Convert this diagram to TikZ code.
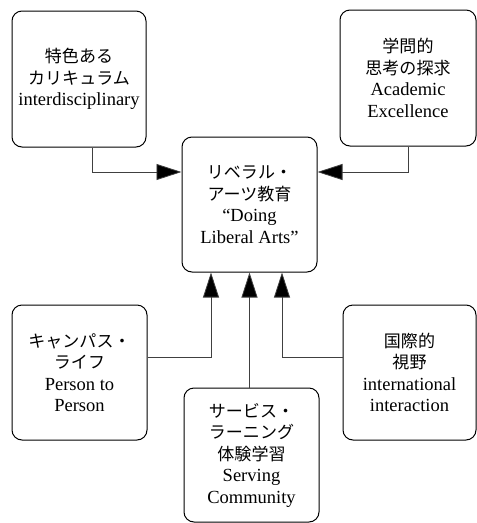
\documentclass[tikz,border=0pt]{standalone}
\usepackage{fontspec}
\setmainfont{Liberation Serif}
\newfontfamily\jp{Noto Sans CJK JP}[Scale=0.92]
\usetikzlibrary{arrows.meta}
\tikzset{
  box/.style={draw=black, line width=1pt, rounded corners=10pt, align=center,
    inner sep=0pt, font=\fontsize{18.5}{21.5}\selectfont},
  arr/.style={draw=black!75, line width=0.8pt,
    -{Triangle[length=25pt,width=16pt,fill=black]}}
}
\begin{document}
\begin{tikzpicture}[x=1pt,y=-1pt]
\useasboundingbox (0,0) rectangle (477,523);
\node[box, minimum width=134pt, minimum height=136pt] (tl) at (79,79)
  {{\jp 特色ある}\\{\jp カリキュラム}\\interdisciplinary};
\node[box, minimum width=136pt, minimum height=136pt] (tr) at (408,78)
  {{\jp 学問的}\\{\jp 思考の探求}\\Academic\\Excellence};
\node[box, minimum width=135pt, minimum height=135pt] (c) at (249.5,204.5)
  {{\jp リベラル・}\\{\jp アーツ教育}\\“Doing\\Liberal Arts”};
\node[box, minimum width=135pt, minimum height=135pt] (bl) at (79.5,372.5)
  {{\jp キャンパス・}\\{\jp ライフ}\\Person to\\Person};
\node[box, minimum width=133pt, minimum height=135pt] (br) at (409.5,372.5)
  {{\jp 国際的}\\{\jp 視野}\\international\\interaction};
\node[box, minimum width=135pt, minimum height=134pt] (bm) at (251.5,455)
  {{\jp サービス・}\\{\jp ラーニング}\\{\jp 体験学習}\\Serving\\Community};
\draw[arr] ([xshift=13pt]tl.south) |- ([yshift=32.5pt]c.west);
\draw[arr] (tr.south) |- ([yshift=32.5pt]c.east);
\draw[arr] ([yshift=15.5pt]bl.east) -| ([xshift=-38.5pt]c.south);
\draw[arr] ([yshift=15.5pt]br.west) -| ([xshift=32.5pt]c.south);
\draw[arr] (bm.north -| c.south) -- (c.south);
\end{tikzpicture}
\end{document}
